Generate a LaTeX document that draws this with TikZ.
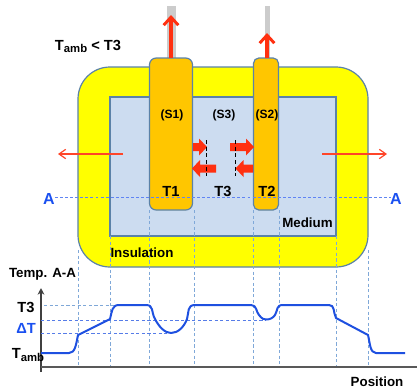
\documentclass[tikz,border=0pt]{standalone}
\usepackage{fontspec}
\setmainfont{Liberation Sans}
\usetikzlibrary{arrows.meta}
\definecolor{edgeblue}{HTML}{5B82A8}
\definecolor{medium}{HTML}{CCDCF0}
\definecolor{sensor}{HTML}{FFC600}
\definecolor{insul}{HTML}{FFFF00}
\definecolor{redarrow}{HTML}{FF3010}
\definecolor{curveblue}{HTML}{1E50E0}
\definecolor{guide}{HTML}{7FA8D8}
\definecolor{letterblue}{HTML}{1A50F0}
\tikzset{
 x=0.75pt,y=-0.75pt,
 lab/.style={font=\bfseries\fontsize{10}{12}\selectfont,inner sep=0pt,text=black},
 smalllab/.style={font=\bfseries\fontsize{9}{11}\selectfont,inner sep=0pt,text=black},
 biglab/.style={font=\bfseries\fontsize{11}{13}\selectfont,inner sep=0pt},
 outline/.style={draw=edgeblue,line width=0.9pt},
 guideline/.style={draw=guide,line width=0.55pt,dash pattern=on 2.4pt off 1.8pt},
 thinred/.style={draw=redarrow!90!white,line width=0.9pt,-{Straight Barb[length=5pt,width=7pt,line width=0.9pt]}},
 uparrow/.style={draw=redarrow,line width=2.4pt,-{Straight Barb[length=6pt,width=11pt,line width=2.2pt]}},
 blockarrow/.style={draw=none,fill=redarrow},
 dashblack/.style={draw=black,line width=0.6pt,dash pattern=on 3pt off 2pt},
 rod/.style={fill=black!20,draw=none},
 curve/.style={draw=curveblue,line width=1.5pt,line join=round},
}
\newcommand{\blockR}[3]{\fill[blockarrow] (#1,#3-4) -- (#2-8,#3-4) -- (#2-8,#3-8.5) -- (#2,#3) -- (#2-8,#3+8.5) -- (#2-8,#3+4)-- (#1,#3+4) -- cycle;}
\newcommand{\blockL}[3]{\fill[blockarrow] (#1,#3-4) -- (#2+8,#3-4) -- (#2+8,#3-8.5) -- (#2,#3) -- (#2+8,#3+8.5) -- (#2+8,#3+4)-- (#1,#3+4) -- cycle;}
\newcommand{\lowtxt}[1]{\raisebox{-1.6pt}{\fontsize{8.5}{10}\selectfont #1}}
\begin{document}
\begin{tikzpicture}
\useasboundingbox (0,0) rectangle (417,390);
% rods
\fill[rod] (167,6) rectangle (175.5,60);
\fill[rod] (265,6) rectangle (269.5,60);
% insulation and medium
\draw[outline,fill=insul,rounded corners=24pt] (78,67) rectangle (368,267);
\draw[outline,fill=medium] (110,97) rectangle (336,236);
% guides
\foreach \gx/\gy in {78/250,110/236,149/210,194/210,253.5/210,279/210,336/236,368/250}
  \draw[guideline] (\gx,\gy) -- (\gx,367);
% sensors
\draw[outline,fill=sensor,rounded corners=5pt] (149.5,58) rectangle (192.5,210);
\draw[outline,fill=sensor,rounded corners=4pt] (253.5,58) rectangle (278.5,210);
% up arrows
\coordinate (u1a) at (171,58); \coordinate (u1b) at (171,15);
\coordinate (u2a) at (267,58); \coordinate (u2b) at (267,33);
\draw[uparrow] (u1a) -- (u1b);
\draw[uparrow] (u2a) -- (u2b);
% loss arrows
\coordinate (l1a) at (123,154); \coordinate (l1b) at (58,154);
\coordinate (l2a) at (322,154); \coordinate (l2b) at (387,154);
\draw[thinred] (l1a) -- (l1b);
\draw[thinred] (l2a) -- (l2b);
% exchange arrows
\blockR{193}{207}{147}
\blockL{216}{192}{168.5}
\blockR{230}{254}{147}
\blockL{253}{235.5}{168.5}
\coordinate (d1a) at (206,140); \coordinate (d1b) at (206,176);
\coordinate (d2a) at (235.5,140); \coordinate (d2b) at (235.5,176);
\draw[dashblack] (d1a) -- (d1b);
\draw[dashblack] (d2a) -- (d2b);
% section line
\coordinate (aa) at (55,197); \coordinate (ab) at (391,197);
\draw[draw=letterblue!70!white,line width=0.6pt,dash pattern=on 2.2pt off 1.6pt] (aa) -- (ab);
\node[font=\bfseries\fontsize{12}{14}\selectfont,text=letterblue,inner sep=0pt] (la) at (49,198.5) {A};
\node[font=\bfseries\fontsize{12}{14}\selectfont,text=letterblue,inner sep=0pt] (lb) at (396,198.5) {A};
% labels
\node[biglab] (tamb1) at (88,46) {T\lowtxt{amb} < T3};
\node[smalllab] (s1) at (172,115) {(S1)};
\node[smalllab] (s3) at (224,115.5) {(S3)};
\node[smalllab] (s2) at (267,115.5) {(S2)};
\node[biglab] (t1) at (171,191) {T1};
\node[biglab] (t3) at (223,191) {T3};
\node[biglab] (t2) at (267,191) {T2};
\node[lab] (med) at (307.5,223) {Medium};
\node[lab] (ins) at (142,252.5) {Insulation};
% axes
\coordinate (o) at (41,367); \coordinate (yend) at (41,288); \coordinate (xend) at (417,367);
\coordinate (ostart) at (41,372);
\draw[draw=black!75,line width=0.9pt,-{Stealth[length=5pt,width=5pt]}] (ostart) -- (yend);
\draw[draw=black!65,line width=0.9pt] (o) -- (xend);
% level guides
\draw[guideline] (44,305) -- (150,305);
\draw[guideline,draw=curveblue!75!white] (41,320) -- (266,320);
\draw[guideline,draw=curveblue!75!white] (41,333) -- (172,333);
% curve
\draw[curve] (41,353) -- (69,353) .. controls (75,353) and (76,345) .. (78,335)
 -- (110,319) .. controls (112,311) and (112,305) .. (119,305)
 -- (146,305) .. controls (154,305) and (151,312) .. (155,319)
 .. controls (159,327) and (165,333) .. (171,333)
 .. controls (178,333) and (184,327) .. (187,319)
 .. controls (189,312) and (187,305) .. (195,305)
 -- (251,305) .. controls (257,305) and (256,312) .. (259,315)
 .. controls (262,319) and (264,319.5) .. (266,319.5)
 .. controls (270,319.5) and (273,318) .. (275,315)
 .. controls (278,310) and (276,305) .. (283,305)
 -- (329,305) .. controls (335,305) and (333,312) .. (336,318)
 -- (368,335) .. controls (370,343) and (370,353) .. (376,353)
 -- (405,353);
% axis labels
\node[lab] (ya) at (42.5,274) {Temp. A-A};
\node[biglab] (lt3) at (26,307) {T3};
\node[biglab,text=letterblue] (ldt) at (26,328) {ΔT};
\node[biglab] (lta) at (28,355) {T\lowtxt{amb}};
\node[lab] (pos) at (377,382) {Position};
\end{tikzpicture}
\end{document}
